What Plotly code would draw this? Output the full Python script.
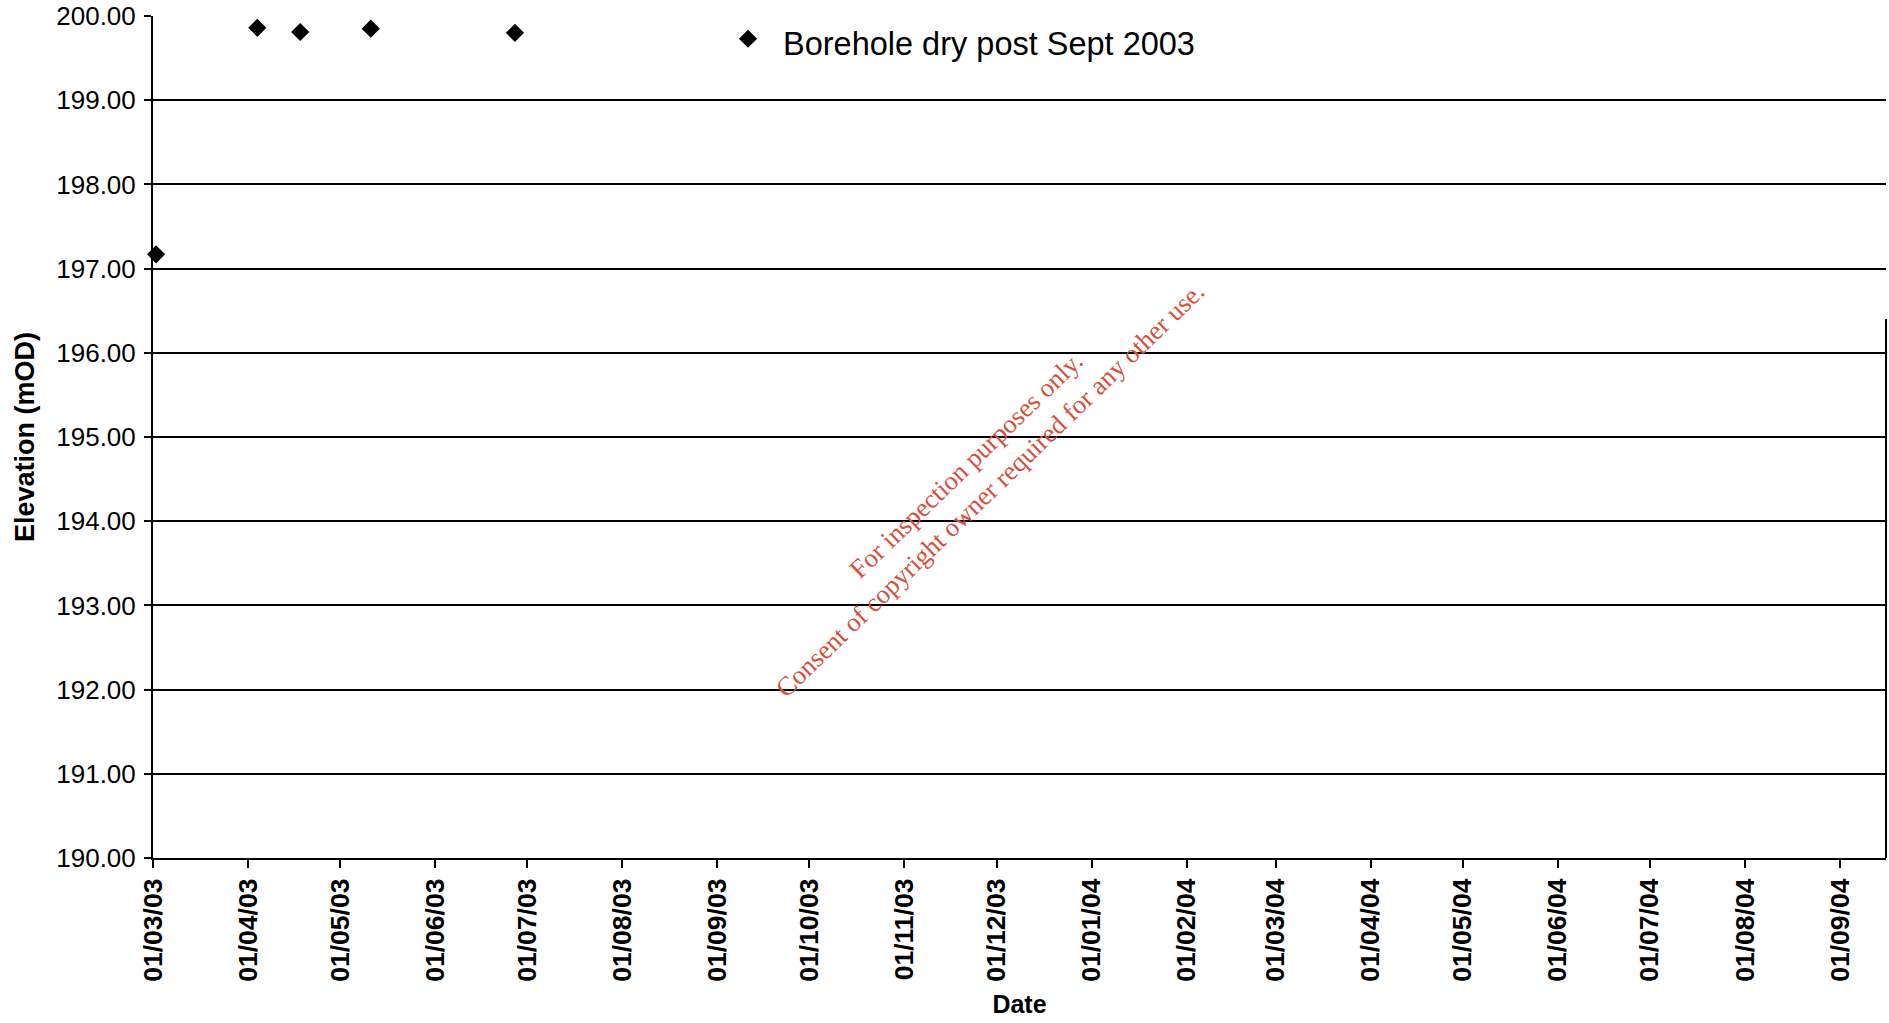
import plotly.graph_objects as go

# readings (dd/mm/yy)
dates = ["2003-03-02", "2003-04-04", "2003-04-18", "2003-05-11", "2003-06-27", "2003-09-11"]
elevation = [197.17, 199.86, 199.81, 199.85, 199.80, 199.73]

label = "Borehole dry post Sept 2003"
x_title = "Date"
y_title = "Elevation (mOD)"
watermark = "For inspection purposes only.<br>Consent of copyright owner required for any other use."

fig = go.Figure()
fig.add_trace(go.Scatter(
    x=dates, y=elevation, mode="markers",
    marker=dict(symbol="diamond", size=14, color="black"),
    cliponaxis=False, showlegend=False))

# label next to the last reading
fig.add_annotation(x=dates[-1], y=elevation[-1], text=label, showarrow=False,
                   xanchor="left", yanchor="middle", xshift=33, yshift=-5,
                   font=dict(family="Liberation Sans, Arial", size=32.5, color="black"))

# red watermark across the plot
fig.add_annotation(xref="paper", yref="paper", x=0.476, y=0.4525, text=watermark,
                   showarrow=False, textangle=-44, align="center",
                   font=dict(family="Liberation Serif, Times New Roman", size=26.5, color="#d4503c"))

# right border only drawn on the lower part in the original
fig.add_shape(type="line", xref="paper", yref="y", x0=1, x1=1, y0=190, y1=196.4,
              line=dict(color="black", width=2))

fig.update_layout(
    width=1889, height=1023,
    margin=dict(l=153, r=3, t=16, b=165),
    plot_bgcolor="white", paper_bgcolor="white",
    font=dict(family="Liberation Sans, Arial", color="black"),
)
fig.update_xaxes(
    type="date", range=["2003-03-01", "2004-09-16"], automargin=False,
    tick0="2003-03-01", dtick="M1", tickformat="%d/%m/%y", tickangle=-90,
    tickfont=dict(size=26.5, weight="bold"),
    ticks="outside", ticklen=8, tickwidth=2, tickcolor="black",
    showline=True, linecolor="black", linewidth=2, showgrid=False, zeroline=False,
    title=dict(text=x_title, font=dict(size=25, weight="bold"), standoff=15),
)
fig.update_yaxes(
    range=[190, 200], dtick=1, tickformat=".2f", automargin=False,
    tickfont=dict(size=26), ticklabelstandoff=3,
    ticks="outside", ticklen=7, tickwidth=2, tickcolor="black",
    showline=True, linecolor="black", linewidth=2,
    showgrid=True, gridcolor="black", gridwidth=2, zeroline=False,
    title=dict(text=y_title, font=dict(size=27, weight="bold"), standoff=14),
)

# drop the page's default body margin so the figure fills the window exactly
fig.write_html("out.html", config={"displayModeBar": False},
               post_script="document.body.style.margin = '0';")
